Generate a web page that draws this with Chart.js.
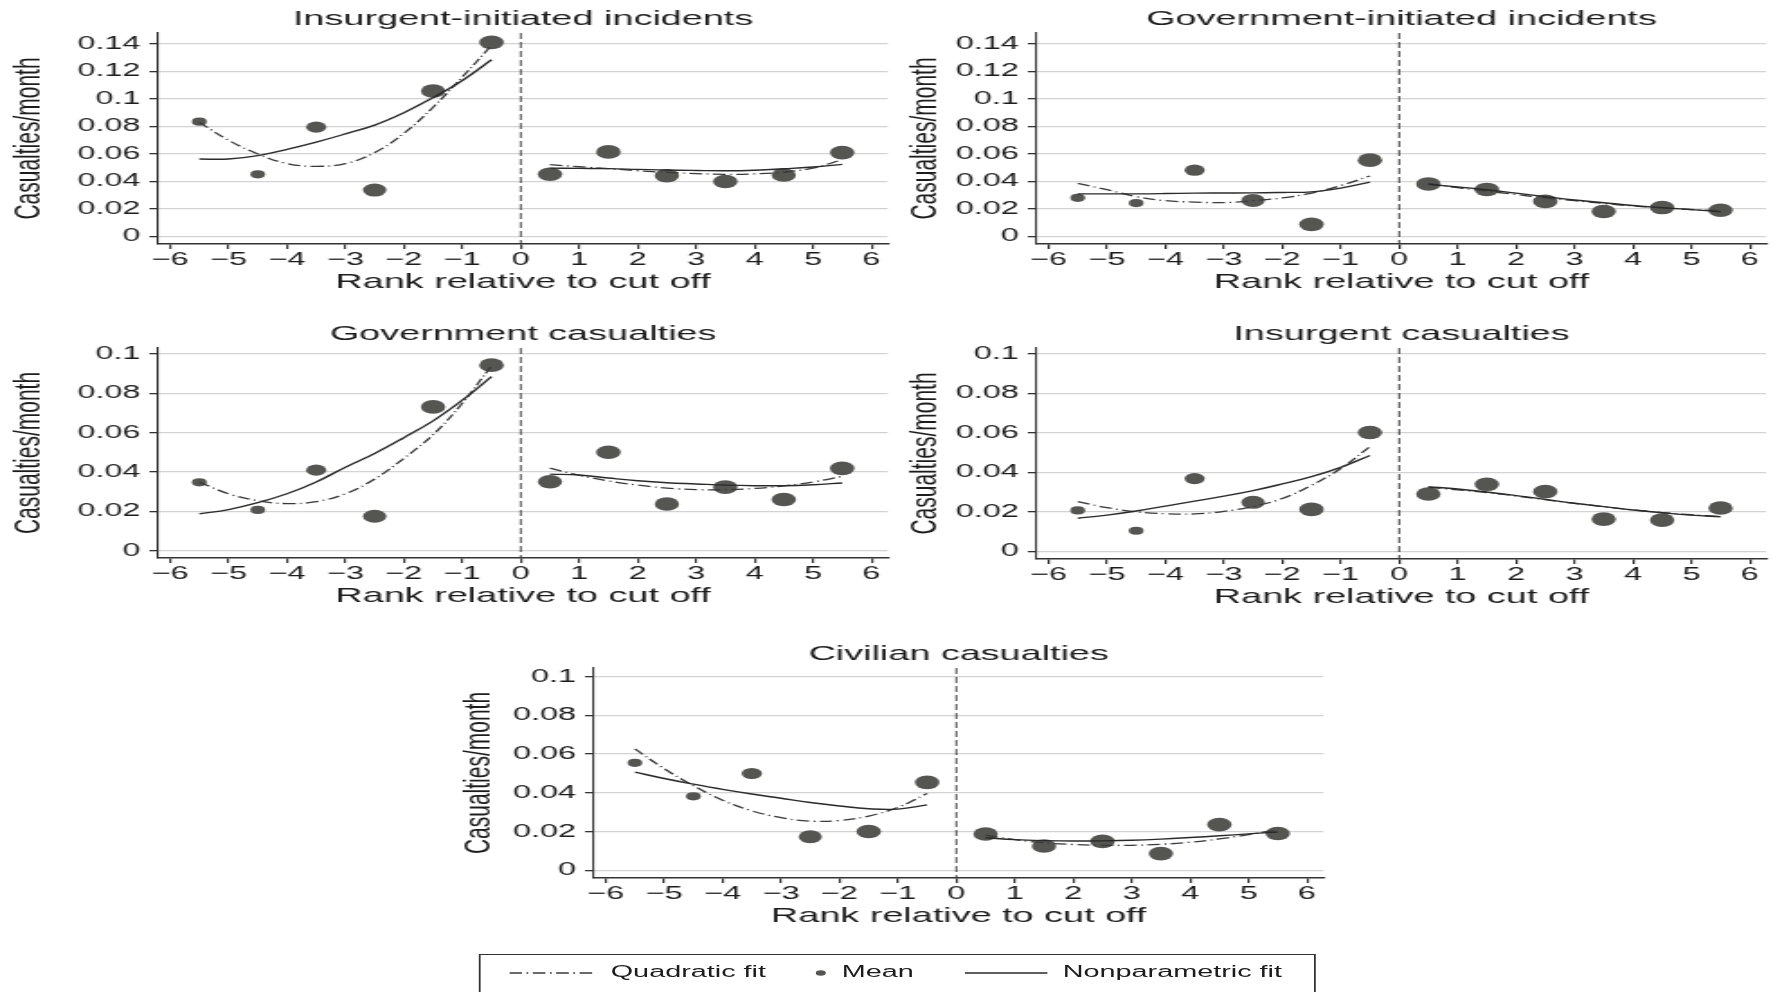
<!DOCTYPE html>
<html>
<head>
<meta charset="utf-8">
<title>Casualties by rank relative to cut off</title>
<script src="https://cdn.jsdelivr.net/npm/chart.js@4.4.1/dist/chart.umd.min.js"></script>
<style>
    html, body { margin: 0; padding: 0; background: #fff; overflow: hidden; }
    /* the whole figure is drawn narrow and stretched sideways, like the original */
    #fig {
        position: absolute; left: 0; top: 0;
        width: 988px; height: 992px;
        transform: scaleX(1.8); transform-origin: 0 0;
        font-family: 'Liberation Sans', Arial, sans-serif; color: #1c1c1c;
    }
    #fig canvas { position: absolute; }
    .legend {
        position: absolute; left: 265.6px; top: 954px; width: 465.5px; height: 60px;
        border: 1.3px solid #333; box-sizing: border-box;
    }
    .legend span { position: absolute; top: 7px; font-size: 16px; line-height: 20px; white-space: nowrap; }
    .legend svg { position: absolute; top: 12px; }
</style>
</head>
<body>
<div id="fig"></div>
<script>
// ---- data ----
const xTickValues = [-6, -5, -4, -3, -2, -1, 0, 1, 2, 3, 4, 5, 6];
const yTicksTop = [0, 0.02, 0.04, 0.06, 0.08, 0.1, 0.12, 0.14];
const yTicksLow = [0, 0.02, 0.04, 0.06, 0.08, 0.1];
const cutoff = 0;

const binX = [-5.5, -4.5, -3.5, -2.5, -1.5, -0.5, 0.5, 1.5, 2.5, 3.5, 4.5, 5.5];
const fitXLeft = [-5.5, -5, -4.5, -4, -3.5, -3, -2.5, -2, -1.5, -1, -0.5];
const fitXRight = [0.5, 1, 1.5, 2, 2.5, 3, 3.5, 4, 4.5, 5, 5.5];

// Insurgent-initiated incidents
const insIncMean = [0.0835, 0.0452, 0.0795, 0.0337, 0.1058, 0.1412, 0.0452, 0.0615, 0.0442, 0.0400, 0.0447, 0.0610];
const insIncQuadL = [0.083, 0.070, 0.060, 0.053, 0.051, 0.053, 0.061, 0.075, 0.094, 0.116, 0.139];
const insIncQuadR = [0.0522, 0.0507, 0.0493, 0.0478, 0.0466, 0.0457, 0.0452, 0.0455, 0.0468, 0.0497, 0.0558];
const insIncNpL = [0.0563, 0.0563, 0.0588, 0.0633, 0.0686, 0.0746, 0.081, 0.090, 0.101, 0.1135, 0.1285];
const insIncNpR = [0.0497, 0.0495, 0.0493, 0.0488, 0.0483, 0.048, 0.0478, 0.0482, 0.0492, 0.0505, 0.0524];

// Government-initiated incidents
const govIncMean = [0.0281, 0.0243, 0.0482, 0.0262, 0.0088, 0.0555, 0.0382, 0.0342, 0.0255, 0.0181, 0.0210, 0.0191];
const govIncQuadL = [0.0386, 0.034, 0.029, 0.026, 0.025, 0.0246, 0.026, 0.028, 0.0315, 0.037, 0.044];
const govIncQuadR = [0.0385, 0.0355, 0.033, 0.0305, 0.028, 0.026, 0.024, 0.0222, 0.0208, 0.0196, 0.0187];
const govIncNpL = [0.031, 0.031, 0.031, 0.0312, 0.0315, 0.0316, 0.0317, 0.032, 0.0324, 0.0352, 0.0395];
const govIncNpR = [0.038, 0.036, 0.034, 0.0315, 0.029, 0.0265, 0.0245, 0.0225, 0.021, 0.0195, 0.018];

// Government casualties
const govCasMean = [0.0348, 0.0208, 0.0410, 0.0176, 0.0731, 0.0943, 0.0351, 0.0501, 0.0238, 0.0324, 0.0261, 0.0419];
const govCasQuadL = [0.035, 0.029, 0.0255, 0.024, 0.025, 0.029, 0.0365, 0.047, 0.059, 0.075, 0.094];
const govCasQuadR = [0.042, 0.0384, 0.0355, 0.0334, 0.0319, 0.0311, 0.0311, 0.0317, 0.033, 0.035, 0.0378];
const govCasNpL = [0.0188, 0.021, 0.0245, 0.029, 0.035, 0.0425, 0.0495, 0.0575, 0.066, 0.0765, 0.0885];
const govCasNpR = [0.039, 0.0385, 0.037, 0.0356, 0.0346, 0.034, 0.0334, 0.0331, 0.0331, 0.0336, 0.0345];

// Insurgent casualties
const insCasMean = [0.0208, 0.0105, 0.0369, 0.0249, 0.0213, 0.0602, 0.0291, 0.0340, 0.0303, 0.0164, 0.0159, 0.0220];
const insCasQuadL = [0.0252, 0.0222, 0.0201, 0.0191, 0.019, 0.0203, 0.0228, 0.0268, 0.0335, 0.042, 0.0531];
const insCasQuadR = [0.0325, 0.0312, 0.0298, 0.0281, 0.0262, 0.0244, 0.0227, 0.0211, 0.0197, 0.0186, 0.0177];
const insCasNpL = [0.0168, 0.0184, 0.0205, 0.023, 0.0255, 0.028, 0.0308, 0.0342, 0.0379, 0.0426, 0.0486];
const insCasNpR = [0.0328, 0.0316, 0.0301, 0.0283, 0.0264, 0.0244, 0.0227, 0.021, 0.0196, 0.0184, 0.0176];

// Civilian casualties
const civCasMean = [0.0555, 0.0382, 0.0500, 0.0173, 0.0200, 0.0454, 0.0187, 0.0125, 0.0149, 0.0086, 0.0236, 0.0190];
const civCasQuadL = [0.0627, 0.0525, 0.0437, 0.0362, 0.0307, 0.0272, 0.0254, 0.0257, 0.028, 0.0325, 0.0396];
const civCasQuadR = [0.0182, 0.0158, 0.0142, 0.0133, 0.0129, 0.0129, 0.0134, 0.0145, 0.0162, 0.0184, 0.021];
const civCasNpL = [0.0507, 0.0474, 0.0445, 0.0418, 0.0394, 0.0372, 0.035, 0.0332, 0.0318, 0.0316, 0.0338];
const civCasNpR = [0.0168, 0.0158, 0.0153, 0.0151, 0.0152, 0.0155, 0.0161, 0.0169, 0.0178, 0.0188, 0.0198];

const legendLabels = ['Quadratic fit', 'Mean', 'Nonparametric fit'];

// ---- styles ----
const meanRadius = [4.1, 4.1, 5.6, 6.5, 6.8, 6.8, 6.8, 6.8, 6.8, 6.8, 6.8, 6.8];
const textColor = '#1c1c1c';
const axisColor = '#333';
const dotColor = '#555552';
const quadDash = [7, 2.5, 1, 2.5];
const yAxisW = 88;
const chartW = 412;
const topPad = 33;
const xAxisH = 51;

Chart.defaults.font.family = "'Liberation Sans', Arial, sans-serif";
Chart.defaults.color = textColor;

const panels = [
    { title: 'Insurgent-initiated incidents', mean: insIncMean, quadL: insIncQuadL, quadR: insIncQuadR, npL: insIncNpL, npR: insIncNpR,
      yTicks: yTicksTop, yMin: -0.0055, yMax: 0.148, left: 0.3, top: 0, chartH: 211, yTitlePad: 3.2 },
    { title: 'Government-initiated incidents', mean: govIncMean, quadL: govIncQuadL, quadR: govIncQuadR, npL: govIncNpL, npR: govIncNpR,
      yTicks: yTicksTop, yMin: -0.0055, yMax: 0.148, left: 488.1, top: 0, chartH: 211, yTitlePad: 13.7 },
    { title: 'Government casualties', mean: govCasMean, quadL: govCasQuadL, quadR: govCasQuadR, npL: govCasNpL, npR: govCasNpR,
      yTicks: yTicksLow, yMin: -0.0036, yMax: 0.103, left: 0.3, top: 315, chartH: 210, yTitlePad: 3.7 },
    { title: 'Insurgent casualties', mean: insCasMean, quadL: insCasQuadL, quadR: insCasQuadR, npL: insCasNpL, npR: insCasNpR,
      yTicks: yTicksLow, yMin: -0.0038, yMax: 0.103, left: 488.1, top: 315, chartH: 211, yTitlePad: 13.7 },
    { title: 'Civilian casualties', mean: civCasMean, quadL: civCasQuadL, quadR: civCasQuadR, npL: civCasNpL, npR: civCasNpR,
      yTicks: yTicksLow, yMin: -0.004, yMax: 0.1045, left: 242, top: 635, chartH: 210, yTitlePad: 12.1 }
];

// Panel title, centred over the plot region
const panelTitle = {
    id: 'panelTitle',
    afterDraw(chart, args, opts) {
        const { ctx, chartArea } = chart;
        ctx.save();
        ctx.font = "21px 'Liberation Sans', Arial, sans-serif";
        ctx.fillStyle = textColor;
        ctx.textAlign = 'center';
        ctx.textBaseline = 'middle';
        ctx.fillText(opts.text, (chartArea.left + chartArea.right) / 2, chartArea.top - 14);
        ctx.restore();
    }
};

// Dashed vertical line at the cut off
const cutoffLine = {
    id: 'cutoffLine',
    beforeDatasetsDraw(chart) {
        const { ctx, chartArea, scales } = chart;
        const x = scales.x.getPixelForValue(cutoff);
        ctx.save();
        ctx.strokeStyle = axisColor;
        ctx.lineWidth = 0.9;
        ctx.setLineDash([6, 3]);
        ctx.beginPath();
        ctx.moveTo(x, chartArea.top);
        ctx.lineTo(x, chartArea.bottom);
        ctx.stroke();
        ctx.restore();
    }
};

function toPoints(xs, ys) {
    return xs.map((x, i) => ({ x: x, y: ys[i] }));
}

function fitLine(xs, ys, dashed) {
    return {
        data: toPoints(xs, ys),
        showLine: true,
        borderColor: dashed ? '#3a3a3a' : '#2a2a2a',
        borderWidth: dashed ? 1.3 : 1.4,
        borderDash: dashed ? quadDash : [],
        pointRadius: 0,
        tension: 0.4,
        fill: false
    };
}

const fig = document.getElementById('fig');

panels.forEach(p => {
    const canvas = document.createElement('canvas');
    canvas.width = yAxisW + chartW;
    canvas.height = topPad + p.chartH + xAxisH;
    canvas.style.left = p.left + 'px';
    canvas.style.top = p.top + 'px';
    fig.appendChild(canvas);

    new Chart(canvas.getContext('2d'), {
        type: 'scatter',
        data: {
            datasets: [
                fitLine(fitXLeft, p.npL, false),
                fitLine(fitXRight, p.npR, false),
                fitLine(fitXLeft, p.quadL, true),
                fitLine(fitXRight, p.quadR, true),
                {
                    data: toPoints(binX, p.mean),
                    pointRadius: meanRadius,
                    backgroundColor: dotColor,
                    borderWidth: 0
                }
            ]
        },
        options: {
            responsive: false,
            animation: false,
            events: [],
            layout: { padding: { top: topPad, left: 0, right: 0, bottom: 0 } },
            plugins: {
                legend: { display: false },
                tooltip: { enabled: false },
                panelTitle: { text: p.title }
            },
            scales: {
                x: {
                    type: 'linear',
                    min: -6.2,
                    max: 6.28,
                    afterBuildTicks: s => { s.ticks = xTickValues.map(v => ({ value: v })); },
                    afterFit: s => { s.height = xAxisH; },
                    grid: { drawOnChartArea: false, tickLength: 5, tickColor: axisColor, lineWidth: 1.2 },
                    border: { display: true, color: axisColor, width: 1.4 },
                    ticks: {
                        autoSkip: false, maxRotation: 0, minRotation: 0, padding: 0,
                        color: textColor, font: { size: 18 },
                        callback: v => v < 0 ? '\u2212' + (-v) : String(v)
                    },
                    title: {
                        display: true, text: 'Rank relative to cut off',
                        color: textColor, font: { size: 21 }, padding: { top: 0, bottom: 0 }
                    }
                },
                y: {
                    type: 'linear',
                    min: p.yMin,
                    max: p.yMax,
                    afterBuildTicks: s => { s.ticks = p.yTicks.map(v => ({ value: v })); },
                    afterFit: s => { s.width = yAxisW; },
                    grid: { color: '#d3d3d3', lineWidth: 1.3, tickLength: 5, tickColor: axisColor },
                    border: { display: true, color: axisColor, width: 1.1 },
                    ticks: {
                        autoSkip: false, padding: 5, color: textColor, font: { size: 18 },
                        callback: v => String(v)
                    },
                    title: {
                        display: true, text: 'Casualties/month',
                        color: textColor, font: { size: 21 }, padding: { top: p.yTitlePad, bottom: 0 }
                    }
                }
            }
        },
        plugins: [panelTitle, cutoffLine]
    });
});

// ---- legend box at the bottom ----
const legend = document.createElement('div');
legend.className = 'legend';
legend.innerHTML =
    '<svg style="left:16.6px" width="48.4" height="12"><line x1="0" y1="6" x2="48.4" y2="6" stroke="#3a3a3a" stroke-width="1.3" stroke-dasharray="7 2.5 1 2.5"/></svg>' +
    '<span style="left:72.7px">' + legendLabels[0] + '</span>' +
    '<svg style="left:186.4px" width="6" height="12"><circle cx="3" cy="6" r="2.8" fill="' + dotColor + '"/></svg>' +
    '<span style="left:201.1px">' + legendLabels[1] + '</span>' +
    '<svg style="left:269.4px" width="46" height="12"><line x1="0" y1="6" x2="46" y2="6" stroke="#2a2a2a" stroke-width="1.3"/></svg>' +
    '<span style="left:323.8px">' + legendLabels[2] + '</span>';
fig.appendChild(legend);
</script>
</body>
</html>
